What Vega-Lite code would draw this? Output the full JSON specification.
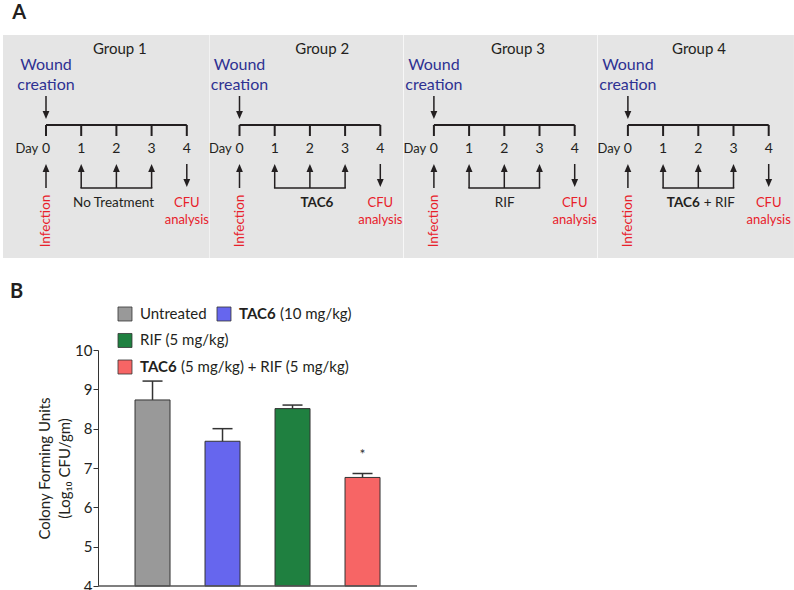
{
  "$schema": "https://vega.github.io/schema/vega-lite/v6.json",
  "padding": {"left": 3, "top": 2, "right": 0, "bottom": 0},
  "config": {"font": "Lato", "view": {"stroke": null}},
  "spacing": 24,
  "datasets": {
    "diagram": [
      {"group": "Group 1", "kind": "g", "normal": "No Treatment", "bold": ""},
      {"group": "Group 2", "kind": "g", "normal": "", "bold": "TAC6"},
      {"group": "Group 3", "kind": "g", "normal": "RIF", "bold": ""},
      {"group": "Group 4", "kind": "g", "normal": "+ RIF", "bold": "TAC6"},
      {"group": "Group 1", "kind": "d", "day": 0}, {"group": "Group 1", "kind": "d", "day": 1}, {"group": "Group 1", "kind": "d", "day": 2}, {"group": "Group 1", "kind": "d", "day": 3}, {"group": "Group 1", "kind": "d", "day": 4},
      {"group": "Group 2", "kind": "d", "day": 0}, {"group": "Group 2", "kind": "d", "day": 1}, {"group": "Group 2", "kind": "d", "day": 2}, {"group": "Group 2", "kind": "d", "day": 3}, {"group": "Group 2", "kind": "d", "day": 4},
      {"group": "Group 3", "kind": "d", "day": 0}, {"group": "Group 3", "kind": "d", "day": 1}, {"group": "Group 3", "kind": "d", "day": 2}, {"group": "Group 3", "kind": "d", "day": 3}, {"group": "Group 3", "kind": "d", "day": 4},
      {"group": "Group 4", "kind": "d", "day": 0}, {"group": "Group 4", "kind": "d", "day": 1}, {"group": "Group 4", "kind": "d", "day": 2}, {"group": "Group 4", "kind": "d", "day": 3}, {"group": "Group 4", "kind": "d", "day": 4}
    ],
    "bars": [
      {"treatment": "Untreated", "mean": 8.73, "upper": 9.21, "sig": ""},
      {"treatment": "TAC6 (10 mg/kg)", "mean": 7.68, "upper": 8.0, "sig": ""},
      {"treatment": "RIF (5 mg/kg)", "mean": 8.51, "upper": 8.6, "sig": ""},
      {"treatment": "TAC6 (5 mg/kg) + RIF (5 mg/kg)", "mean": 6.76, "upper": 6.86, "sig": "*"}
    ],
    "legend": [
      {"treatment": "Untreated", "row": 0, "col": 0, "bold": "", "rest": "Untreated"},
      {"treatment": "TAC6 (10 mg/kg)", "row": 0, "col": 1, "bold": "TAC6", "rest": "(10 mg/kg)"},
      {"treatment": "RIF (5 mg/kg)", "row": 1, "col": 0, "bold": "", "rest": "RIF (5 mg/kg)"},
      {"treatment": "TAC6 (5 mg/kg) + RIF (5 mg/kg)", "row": 2, "col": 0, "bold": "TAC6", "rest": "(5 mg/kg) + RIF (5 mg/kg)"}
    ]
  },
  "vconcat": [
    {
      "hconcat": [
        {
          "width": 206.5, "height": 223,
          "data": {"name": "diagram"},
          "transform": [{"filter": "datum.group == 'Group 1'"}],
          "layer": [
            {"transform": [{"filter": "datum.kind == 'g'"}], "mark": {"type": "rect", "fill": "#e5e5e5"}, "encoding": {}},
            {"transform": [{"filter": "datum.kind == 'g'"}], "mark": {"type": "rule", "stroke": "#231f20", "strokeWidth": 2},
             "encoding": {"x": {"datum": 0, "type": "quantitative", "scale": {"domain": [-1.2216, 4.6449], "nice": false, "zero": false}, "axis": null}, "x2": {"datum": 4},
                          "y": {"datum": 0, "type": "quantitative", "scale": {"domain": [-9, 13.3], "reverse": true, "nice": false, "zero": false}, "axis": null}}},
            {"transform": [{"filter": "datum.kind == 'g'"}], "mark": {"type": "text", "fontSize": 15, "color": "#231f20", "align": "center", "baseline": "middle"},
             "encoding": {"text": {"field": "group"}, "x": {"datum": 2.1, "type": "quantitative"}, "y": {"datum": -7.63, "type": "quantitative"}}},
            {"transform": [{"filter": "datum.kind == 'g'"}], "mark": {"type": "text", "fontSize": 16, "color": "#2e3192", "align": "center", "baseline": "middle", "text": ["Wound", "creation"], "lineHeight": 20},
             "encoding": {"x": {"datum": 0, "type": "quantitative"}, "y": {"datum": -6.0, "type": "quantitative"}}},
            {"transform": [{"filter": "datum.kind == 'g'"}], "mark": {"type": "rule", "stroke": "#231f20", "strokeWidth": 1.5},
             "encoding": {"x": {"datum": 0, "type": "quantitative"}, "y": {"datum": -2.9, "type": "quantitative"}, "y2": {"datum": -1.0}}},
            {"transform": [{"filter": "datum.kind == 'g'"}], "mark": {"type": "point", "shape": "M-0.85,-1L0.85,-1L0,1Z", "size": 64, "filled": true, "fill": "#231f20", "strokeWidth": 0, "opacity": 1},
             "encoding": {"x": {"datum": 0, "type": "quantitative"}, "y": {"datum": -1.0, "type": "quantitative"}}},
            {"transform": [{"filter": "datum.kind == 'd'"}], "mark": {"type": "rule", "stroke": "#231f20", "strokeWidth": 2},
             "encoding": {"x": {"field": "day", "type": "quantitative"}, "y": {"datum": 0, "type": "quantitative"}, "y2": {"datum": 1.1}}},
            {"transform": [{"filter": "datum.kind == 'd'"}], "mark": {"type": "text", "fontSize": 14, "color": "#231f20", "align": "center", "baseline": "middle"},
             "encoding": {"text": {"field": "day"}, "x": {"field": "day", "type": "quantitative"}, "y": {"datum": 2.4, "type": "quantitative"}}},
            {"transform": [{"filter": "datum.kind == 'g'"}], "mark": {"type": "text", "fontSize": 13, "color": "#231f20", "align": "right", "baseline": "middle", "text": "Day"},
             "encoding": {"x": {"datum": -0.22, "type": "quantitative"}, "y": {"datum": 2.4, "type": "quantitative"}}},
            {"transform": [{"filter": "datum.kind == 'd' && datum.day < 4"}], "mark": {"type": "rule", "stroke": "#231f20", "strokeWidth": 1.5},
             "encoding": {"x": {"field": "day", "type": "quantitative"}, "y": {"datum": 6.3, "type": "quantitative"}, "y2": {"datum": 4.3}}},
            {"transform": [{"filter": "datum.kind == 'd' && datum.day < 4"}], "mark": {"type": "point", "shape": "M-0.85,1L0.85,1L0,-1Z", "size": 64, "filled": true, "fill": "#231f20", "strokeWidth": 0, "opacity": 1},
             "encoding": {"x": {"field": "day", "type": "quantitative"}, "y": {"datum": 4.3, "type": "quantitative"}}},
            {"transform": [{"filter": "datum.kind == 'g'"}], "mark": {"type": "rule", "stroke": "#231f20", "strokeWidth": 1.5, "strokeCap": "square"},
             "encoding": {"x": {"datum": 1, "type": "quantitative"}, "x2": {"datum": 3}, "y": {"datum": 6.3, "type": "quantitative"}}},
            {"transform": [{"filter": "datum.kind == 'd' && datum.day == 4"}], "mark": {"type": "rule", "stroke": "#231f20", "strokeWidth": 1.5},
             "encoding": {"x": {"field": "day", "type": "quantitative"}, "y": {"datum": 3.9, "type": "quantitative"}, "y2": {"datum": 5.8}}},
            {"transform": [{"filter": "datum.kind == 'd' && datum.day == 4"}], "mark": {"type": "point", "shape": "M-0.85,-1L0.85,-1L0,1Z", "size": 64, "filled": true, "fill": "#231f20", "strokeWidth": 0, "opacity": 1},
             "encoding": {"x": {"field": "day", "type": "quantitative"}, "y": {"datum": 5.8, "type": "quantitative"}}},
            {"transform": [{"filter": "datum.kind == 'g'"}], "mark": {"type": "text", "fontSize": 13.5, "color": "#231f20", "align": "center", "baseline": "middle"},
             "encoding": {"text": {"field": "normal"}, "x": {"datum": 1.92, "type": "quantitative"}, "y": {"datum": 7.8, "type": "quantitative"}}},
            {"transform": [{"filter": "datum.kind == 'g'"}], "mark": {"type": "text", "fontSize": 13, "color": "#e8202a", "align": "center", "baseline": "middle", "text": ["CFU", "analysis"], "lineHeight": 17},
             "encoding": {"x": {"datum": 4, "type": "quantitative"}, "y": {"datum": 7.8, "type": "quantitative"}}},
            {"transform": [{"filter": "datum.kind == 'g'"}], "mark": {"type": "text", "fontSize": 13.5, "color": "#e8202a", "align": "center", "baseline": "middle", "angle": 270, "text": "Infection"},
             "encoding": {"x": {"datum": 0, "type": "quantitative"}, "y": {"datum": 9.6, "type": "quantitative"}}},
            {"transform": [{"filter": "datum.kind == 'g'"}], "mark": {"type": "text", "fontSize": 20, "fontWeight": "bold", "color": "#231f20", "align": "left", "baseline": "middle", "text": "A"},
             "encoding": {"x": {"datum": -0.96, "type": "quantitative"}, "y": {"datum": -11.25, "type": "quantitative"}}}
          ]
        },
        {
          "width": 193.3, "height": 223,
          "data": {"name": "diagram"},
          "transform": [{"filter": "datum.group == 'Group 2'"}],
          "layer": [
            {"transform": [{"filter": "datum.kind == 'g'"}], "mark": {"type": "rect", "fill": "#e5e5e5"}, "encoding": {}},
            {"transform": [{"filter": "datum.kind == 'g'"}], "mark": {"type": "rule", "stroke": "#231f20", "strokeWidth": 2},
             "encoding": {"x": {"datum": 0, "type": "quantitative", "scale": {"domain": [-0.8381, 4.6534], "nice": false, "zero": false}, "axis": null}, "x2": {"datum": 4},
                          "y": {"datum": 0, "type": "quantitative", "scale": {"domain": [-9, 13.3], "reverse": true, "nice": false, "zero": false}, "axis": null}}},
            {"transform": [{"filter": "datum.kind == 'g'"}], "mark": {"type": "text", "fontSize": 15, "color": "#231f20", "align": "center", "baseline": "middle"},
             "encoding": {"text": {"field": "group"}, "x": {"datum": 2.35, "type": "quantitative"}, "y": {"datum": -7.63, "type": "quantitative"}}},
            {"transform": [{"filter": "datum.kind == 'g'"}], "mark": {"type": "text", "fontSize": 16, "color": "#2e3192", "align": "center", "baseline": "middle", "text": ["Wound", "creation"], "lineHeight": 20},
             "encoding": {"x": {"datum": 0, "type": "quantitative"}, "y": {"datum": -6.0, "type": "quantitative"}}},
            {"transform": [{"filter": "datum.kind == 'g'"}], "mark": {"type": "rule", "stroke": "#231f20", "strokeWidth": 1.5},
             "encoding": {"x": {"datum": 0, "type": "quantitative"}, "y": {"datum": -2.9, "type": "quantitative"}, "y2": {"datum": -1.0}}},
            {"transform": [{"filter": "datum.kind == 'g'"}], "mark": {"type": "point", "shape": "M-0.85,-1L0.85,-1L0,1Z", "size": 64, "filled": true, "fill": "#231f20", "strokeWidth": 0, "opacity": 1},
             "encoding": {"x": {"datum": 0, "type": "quantitative"}, "y": {"datum": -1.0, "type": "quantitative"}}},
            {"transform": [{"filter": "datum.kind == 'd'"}], "mark": {"type": "rule", "stroke": "#231f20", "strokeWidth": 2},
             "encoding": {"x": {"field": "day", "type": "quantitative"}, "y": {"datum": 0, "type": "quantitative"}, "y2": {"datum": 1.1}}},
            {"transform": [{"filter": "datum.kind == 'd'"}], "mark": {"type": "text", "fontSize": 14, "color": "#231f20", "align": "center", "baseline": "middle"},
             "encoding": {"text": {"field": "day"}, "x": {"field": "day", "type": "quantitative"}, "y": {"datum": 2.4, "type": "quantitative"}}},
            {"transform": [{"filter": "datum.kind == 'g'"}], "mark": {"type": "text", "fontSize": 13, "color": "#231f20", "align": "right", "baseline": "middle", "text": "Day"},
             "encoding": {"x": {"datum": -0.22, "type": "quantitative"}, "y": {"datum": 2.4, "type": "quantitative"}}},
            {"transform": [{"filter": "datum.kind == 'd' && datum.day < 4"}], "mark": {"type": "rule", "stroke": "#231f20", "strokeWidth": 1.5},
             "encoding": {"x": {"field": "day", "type": "quantitative"}, "y": {"datum": 6.3, "type": "quantitative"}, "y2": {"datum": 4.3}}},
            {"transform": [{"filter": "datum.kind == 'd' && datum.day < 4"}], "mark": {"type": "point", "shape": "M-0.85,1L0.85,1L0,-1Z", "size": 64, "filled": true, "fill": "#231f20", "strokeWidth": 0, "opacity": 1},
             "encoding": {"x": {"field": "day", "type": "quantitative"}, "y": {"datum": 4.3, "type": "quantitative"}}},
            {"transform": [{"filter": "datum.kind == 'g'"}], "mark": {"type": "rule", "stroke": "#231f20", "strokeWidth": 1.5, "strokeCap": "square"},
             "encoding": {"x": {"datum": 1, "type": "quantitative"}, "x2": {"datum": 3}, "y": {"datum": 6.3, "type": "quantitative"}}},
            {"transform": [{"filter": "datum.kind == 'd' && datum.day == 4"}], "mark": {"type": "rule", "stroke": "#231f20", "strokeWidth": 1.5},
             "encoding": {"x": {"field": "day", "type": "quantitative"}, "y": {"datum": 3.9, "type": "quantitative"}, "y2": {"datum": 5.8}}},
            {"transform": [{"filter": "datum.kind == 'd' && datum.day == 4"}], "mark": {"type": "point", "shape": "M-0.85,-1L0.85,-1L0,1Z", "size": 64, "filled": true, "fill": "#231f20", "strokeWidth": 0, "opacity": 1},
             "encoding": {"x": {"field": "day", "type": "quantitative"}, "y": {"datum": 5.8, "type": "quantitative"}}},
            {"transform": [{"filter": "datum.kind == 'g'"}], "mark": {"type": "text", "fontSize": 13.5, "fontWeight": "bold", "color": "#231f20", "align": "center", "baseline": "middle"},
             "encoding": {"text": {"field": "bold"}, "x": {"datum": 2.2, "type": "quantitative"}, "y": {"datum": 7.8, "type": "quantitative"}}},
            {"transform": [{"filter": "datum.kind == 'g'"}], "mark": {"type": "text", "fontSize": 13, "color": "#e8202a", "align": "center", "baseline": "middle", "text": ["CFU", "analysis"], "lineHeight": 17},
             "encoding": {"x": {"datum": 4, "type": "quantitative"}, "y": {"datum": 7.8, "type": "quantitative"}}},
            {"transform": [{"filter": "datum.kind == 'g'"}], "mark": {"type": "text", "fontSize": 13.5, "color": "#e8202a", "align": "center", "baseline": "middle", "angle": 270, "text": "Infection"},
             "encoding": {"x": {"datum": 0, "type": "quantitative"}, "y": {"datum": 9.6, "type": "quantitative"}}}
          ]
        },
        {
          "width": 193.3, "height": 223,
          "data": {"name": "diagram"},
          "transform": [{"filter": "datum.group == 'Group 3'"}],
          "layer": [
            {"transform": [{"filter": "datum.kind == 'g'"}], "mark": {"type": "rect", "fill": "#e5e5e5"}, "encoding": {}},
            {"transform": [{"filter": "datum.kind == 'g'"}], "mark": {"type": "rule", "stroke": "#231f20", "strokeWidth": 2},
             "encoding": {"x": {"datum": 0, "type": "quantitative", "scale": {"domain": [-0.8494, 4.642], "nice": false, "zero": false}, "axis": null}, "x2": {"datum": 4},
                          "y": {"datum": 0, "type": "quantitative", "scale": {"domain": [-9, 13.3], "reverse": true, "nice": false, "zero": false}, "axis": null}}},
            {"transform": [{"filter": "datum.kind == 'g'"}], "mark": {"type": "text", "fontSize": 15, "color": "#231f20", "align": "center", "baseline": "middle"},
             "encoding": {"text": {"field": "group"}, "x": {"datum": 2.39, "type": "quantitative"}, "y": {"datum": -7.63, "type": "quantitative"}}},
            {"transform": [{"filter": "datum.kind == 'g'"}], "mark": {"type": "text", "fontSize": 16, "color": "#2e3192", "align": "center", "baseline": "middle", "text": ["Wound", "creation"], "lineHeight": 20},
             "encoding": {"x": {"datum": 0, "type": "quantitative"}, "y": {"datum": -6.0, "type": "quantitative"}}},
            {"transform": [{"filter": "datum.kind == 'g'"}], "mark": {"type": "rule", "stroke": "#231f20", "strokeWidth": 1.5},
             "encoding": {"x": {"datum": 0, "type": "quantitative"}, "y": {"datum": -2.9, "type": "quantitative"}, "y2": {"datum": -1.0}}},
            {"transform": [{"filter": "datum.kind == 'g'"}], "mark": {"type": "point", "shape": "M-0.85,-1L0.85,-1L0,1Z", "size": 64, "filled": true, "fill": "#231f20", "strokeWidth": 0, "opacity": 1},
             "encoding": {"x": {"datum": 0, "type": "quantitative"}, "y": {"datum": -1.0, "type": "quantitative"}}},
            {"transform": [{"filter": "datum.kind == 'd'"}], "mark": {"type": "rule", "stroke": "#231f20", "strokeWidth": 2},
             "encoding": {"x": {"field": "day", "type": "quantitative"}, "y": {"datum": 0, "type": "quantitative"}, "y2": {"datum": 1.1}}},
            {"transform": [{"filter": "datum.kind == 'd'"}], "mark": {"type": "text", "fontSize": 14, "color": "#231f20", "align": "center", "baseline": "middle"},
             "encoding": {"text": {"field": "day"}, "x": {"field": "day", "type": "quantitative"}, "y": {"datum": 2.4, "type": "quantitative"}}},
            {"transform": [{"filter": "datum.kind == 'g'"}], "mark": {"type": "text", "fontSize": 13, "color": "#231f20", "align": "right", "baseline": "middle", "text": "Day"},
             "encoding": {"x": {"datum": -0.22, "type": "quantitative"}, "y": {"datum": 2.4, "type": "quantitative"}}},
            {"transform": [{"filter": "datum.kind == 'd' && datum.day < 4"}], "mark": {"type": "rule", "stroke": "#231f20", "strokeWidth": 1.5},
             "encoding": {"x": {"field": "day", "type": "quantitative"}, "y": {"datum": 6.3, "type": "quantitative"}, "y2": {"datum": 4.3}}},
            {"transform": [{"filter": "datum.kind == 'd' && datum.day < 4"}], "mark": {"type": "point", "shape": "M-0.85,1L0.85,1L0,-1Z", "size": 64, "filled": true, "fill": "#231f20", "strokeWidth": 0, "opacity": 1},
             "encoding": {"x": {"field": "day", "type": "quantitative"}, "y": {"datum": 4.3, "type": "quantitative"}}},
            {"transform": [{"filter": "datum.kind == 'g'"}], "mark": {"type": "rule", "stroke": "#231f20", "strokeWidth": 1.5, "strokeCap": "square"},
             "encoding": {"x": {"datum": 1, "type": "quantitative"}, "x2": {"datum": 3}, "y": {"datum": 6.3, "type": "quantitative"}}},
            {"transform": [{"filter": "datum.kind == 'd' && datum.day == 4"}], "mark": {"type": "rule", "stroke": "#231f20", "strokeWidth": 1.5},
             "encoding": {"x": {"field": "day", "type": "quantitative"}, "y": {"datum": 3.9, "type": "quantitative"}, "y2": {"datum": 5.8}}},
            {"transform": [{"filter": "datum.kind == 'd' && datum.day == 4"}], "mark": {"type": "point", "shape": "M-0.85,-1L0.85,-1L0,1Z", "size": 64, "filled": true, "fill": "#231f20", "strokeWidth": 0, "opacity": 1},
             "encoding": {"x": {"field": "day", "type": "quantitative"}, "y": {"datum": 5.8, "type": "quantitative"}}},
            {"transform": [{"filter": "datum.kind == 'g'"}], "mark": {"type": "text", "fontSize": 13.5, "color": "#231f20", "align": "center", "baseline": "middle"},
             "encoding": {"text": {"field": "normal"}, "x": {"datum": 2.01, "type": "quantitative"}, "y": {"datum": 7.8, "type": "quantitative"}}},
            {"transform": [{"filter": "datum.kind == 'g'"}], "mark": {"type": "text", "fontSize": 13, "color": "#e8202a", "align": "center", "baseline": "middle", "text": ["CFU", "analysis"], "lineHeight": 17},
             "encoding": {"x": {"datum": 4, "type": "quantitative"}, "y": {"datum": 7.8, "type": "quantitative"}}},
            {"transform": [{"filter": "datum.kind == 'g'"}], "mark": {"type": "text", "fontSize": 13.5, "color": "#e8202a", "align": "center", "baseline": "middle", "angle": 270, "text": "Infection"},
             "encoding": {"x": {"datum": 0, "type": "quantitative"}, "y": {"datum": 9.6, "type": "quantitative"}}}
          ]
        },
        {
          "width": 195.9, "height": 223,
          "data": {"name": "diagram"},
          "transform": [{"filter": "datum.group == 'Group 4'"}],
          "layer": [
            {"transform": [{"filter": "datum.kind == 'g'"}], "mark": {"type": "rect", "fill": "#e5e5e5"}, "encoding": {}},
            {"transform": [{"filter": "datum.kind == 'g'"}], "mark": {"type": "rule", "stroke": "#231f20", "strokeWidth": 2},
             "encoding": {"x": {"datum": 0, "type": "quantitative", "scale": {"domain": [-0.8494, 4.7159], "nice": false, "zero": false}, "axis": null}, "x2": {"datum": 4},
                          "y": {"datum": 0, "type": "quantitative", "scale": {"domain": [-9, 13.3], "reverse": true, "nice": false, "zero": false}, "axis": null}}},
            {"transform": [{"filter": "datum.kind == 'g'"}], "mark": {"type": "text", "fontSize": 15, "color": "#231f20", "align": "center", "baseline": "middle"},
             "encoding": {"text": {"field": "group"}, "x": {"datum": 2.02, "type": "quantitative"}, "y": {"datum": -7.63, "type": "quantitative"}}},
            {"transform": [{"filter": "datum.kind == 'g'"}], "mark": {"type": "text", "fontSize": 16, "color": "#2e3192", "align": "center", "baseline": "middle", "text": ["Wound", "creation"], "lineHeight": 20},
             "encoding": {"x": {"datum": 0, "type": "quantitative"}, "y": {"datum": -6.0, "type": "quantitative"}}},
            {"transform": [{"filter": "datum.kind == 'g'"}], "mark": {"type": "rule", "stroke": "#231f20", "strokeWidth": 1.5},
             "encoding": {"x": {"datum": 0, "type": "quantitative"}, "y": {"datum": -2.9, "type": "quantitative"}, "y2": {"datum": -1.0}}},
            {"transform": [{"filter": "datum.kind == 'g'"}], "mark": {"type": "point", "shape": "M-0.85,-1L0.85,-1L0,1Z", "size": 64, "filled": true, "fill": "#231f20", "strokeWidth": 0, "opacity": 1},
             "encoding": {"x": {"datum": 0, "type": "quantitative"}, "y": {"datum": -1.0, "type": "quantitative"}}},
            {"transform": [{"filter": "datum.kind == 'd'"}], "mark": {"type": "rule", "stroke": "#231f20", "strokeWidth": 2},
             "encoding": {"x": {"field": "day", "type": "quantitative"}, "y": {"datum": 0, "type": "quantitative"}, "y2": {"datum": 1.1}}},
            {"transform": [{"filter": "datum.kind == 'd'"}], "mark": {"type": "text", "fontSize": 14, "color": "#231f20", "align": "center", "baseline": "middle"},
             "encoding": {"text": {"field": "day"}, "x": {"field": "day", "type": "quantitative"}, "y": {"datum": 2.4, "type": "quantitative"}}},
            {"transform": [{"filter": "datum.kind == 'g'"}], "mark": {"type": "text", "fontSize": 13, "color": "#231f20", "align": "right", "baseline": "middle", "text": "Day"},
             "encoding": {"x": {"datum": -0.22, "type": "quantitative"}, "y": {"datum": 2.4, "type": "quantitative"}}},
            {"transform": [{"filter": "datum.kind == 'd' && datum.day < 4"}], "mark": {"type": "rule", "stroke": "#231f20", "strokeWidth": 1.5},
             "encoding": {"x": {"field": "day", "type": "quantitative"}, "y": {"datum": 6.3, "type": "quantitative"}, "y2": {"datum": 4.3}}},
            {"transform": [{"filter": "datum.kind == 'd' && datum.day < 4"}], "mark": {"type": "point", "shape": "M-0.85,1L0.85,1L0,-1Z", "size": 64, "filled": true, "fill": "#231f20", "strokeWidth": 0, "opacity": 1},
             "encoding": {"x": {"field": "day", "type": "quantitative"}, "y": {"datum": 4.3, "type": "quantitative"}}},
            {"transform": [{"filter": "datum.kind == 'g'"}], "mark": {"type": "rule", "stroke": "#231f20", "strokeWidth": 1.5, "strokeCap": "square"},
             "encoding": {"x": {"datum": 1, "type": "quantitative"}, "x2": {"datum": 3}, "y": {"datum": 6.3, "type": "quantitative"}}},
            {"transform": [{"filter": "datum.kind == 'd' && datum.day == 4"}], "mark": {"type": "rule", "stroke": "#231f20", "strokeWidth": 1.5},
             "encoding": {"x": {"field": "day", "type": "quantitative"}, "y": {"datum": 3.9, "type": "quantitative"}, "y2": {"datum": 5.8}}},
            {"transform": [{"filter": "datum.kind == 'd' && datum.day == 4"}], "mark": {"type": "point", "shape": "M-0.85,-1L0.85,-1L0,1Z", "size": 64, "filled": true, "fill": "#231f20", "strokeWidth": 0, "opacity": 1},
             "encoding": {"x": {"field": "day", "type": "quantitative"}, "y": {"datum": 5.8, "type": "quantitative"}}},
            {"transform": [{"filter": "datum.kind == 'g'"}], "mark": {"type": "text", "fontSize": 13.5, "fontWeight": "bold", "color": "#231f20", "align": "right", "baseline": "middle", "dx": -2},
             "encoding": {"text": {"field": "bold"}, "x": {"datum": 2.1, "type": "quantitative"}, "y": {"datum": 7.8, "type": "quantitative"}}},
            {"transform": [{"filter": "datum.kind == 'g'"}], "mark": {"type": "text", "fontSize": 13.5, "color": "#231f20", "align": "left", "baseline": "middle", "dx": 2},
             "encoding": {"text": {"field": "normal"}, "x": {"datum": 2.1, "type": "quantitative"}, "y": {"datum": 7.8, "type": "quantitative"}}},
            {"transform": [{"filter": "datum.kind == 'g'"}], "mark": {"type": "text", "fontSize": 13, "color": "#e8202a", "align": "center", "baseline": "middle", "text": ["CFU", "analysis"], "lineHeight": 17},
             "encoding": {"x": {"datum": 4, "type": "quantitative"}, "y": {"datum": 7.8, "type": "quantitative"}}},
            {"transform": [{"filter": "datum.kind == 'g'"}], "mark": {"type": "text", "fontSize": 13.5, "color": "#e8202a", "align": "center", "baseline": "middle", "angle": 270, "text": "Infection"},
             "encoding": {"x": {"datum": 0, "type": "quantitative"}, "y": {"datum": 9.6, "type": "quantitative"}}}
          ]
        }
      ],
      "spacing": 0,
      "bounds": "flush"
    },
    {
      "width": 385,
      "height": 236,
      "layer": [
        {
          "data": {"name": "bars"},
          "layer": [
            {"mark": {"type": "bar", "stroke": "#333333", "strokeWidth": 1},
             "encoding": {
               "x": {"field": "treatment", "type": "nominal", "sort": null, "scale": {"paddingInner": 0.5, "paddingOuter": 1, "align": 0.943}, "axis": null},
               "y": {"field": "mean", "type": "quantitative", "scale": {"domain": [4, 10], "nice": false, "zero": false},
                     "axis": {"offset": -95, "values": [4, 5, 6, 7, 8, 9, 10], "tickCount": 7, "labelOverlap": false, "grid": false, "tickSize": 5, "tickColor": "#333333", "domainColor": "#333333", "labelFontSize": 15, "labelPadding": 1, "labelColor": "#231f20", "title": ["Colony Forming Units", "(Log₁₀ CFU/gm)"], "titleFontSize": 15, "titleFontWeight": "normal", "titleLineHeight": 20, "titlePadding": 2, "titleColor": "#231f20"}},
               "y2": {"datum": 4},
               "color": {"field": "treatment", "type": "nominal", "scale": {"domain": ["Untreated", "TAC6 (10 mg/kg)", "RIF (5 mg/kg)", "TAC6 (5 mg/kg) + RIF (5 mg/kg)"], "range": ["#999999", "#6666ee", "#1f8040", "#f76565"]}, "legend": null}
             }},
            {"mark": {"type": "rule", "stroke": "#333333", "strokeWidth": 1.5},
             "encoding": {"x": {"field": "treatment", "type": "nominal", "sort": null}, "y": {"field": "mean", "type": "quantitative"}, "y2": {"field": "upper"}}},
            {"mark": {"type": "tick", "color": "#333333", "size": 20, "thickness": 1.5, "opacity": 1},
             "encoding": {"x": {"field": "treatment", "type": "nominal", "sort": null}, "y": {"field": "upper", "type": "quantitative"}}},
            {"mark": {"type": "text", "fontSize": 14, "color": "#333333", "dy": -19, "baseline": "middle"},
             "encoding": {"x": {"field": "treatment", "type": "nominal", "sort": null}, "y": {"field": "upper", "type": "quantitative"}, "text": {"field": "sig"}}}
          ]
        },
        {
          "data": {"name": "legend"},
          "layer": [
            {"mark": {"type": "square", "size": 196, "filled": true, "stroke": "#333333", "strokeWidth": 0.8, "opacity": 1},
             "encoding": {
               "x": {"field": "col", "type": "quantitative", "scale": {"domain": [-1.2323, 2.6566], "nice": false, "zero": false}, "axis": null},
               "y": {"field": "row", "type": "quantitative", "scale": {"domain": [1.3585, 10.264], "reverse": true, "nice": false, "zero": false}, "axis": null},
               "color": {"field": "treatment", "type": "nominal", "legend": null}
             }},
            {"transform": [{"filter": "datum.bold != ''"}],
             "mark": {"type": "text", "fontSize": 15, "fontWeight": "bold", "color": "#231f20", "align": "left", "baseline": "middle", "dx": 15},
             "encoding": {"x": {"field": "col", "type": "quantitative"}, "y": {"field": "row", "type": "quantitative"}, "text": {"field": "bold"}}},
            {"transform": [{"filter": "datum.bold != ''"}],
             "mark": {"type": "text", "fontSize": 15, "color": "#231f20", "align": "left", "baseline": "middle", "dx": 56},
             "encoding": {"x": {"field": "col", "type": "quantitative"}, "y": {"field": "row", "type": "quantitative"}, "text": {"field": "rest"}}},
            {"transform": [{"filter": "datum.bold == ''"}],
             "mark": {"type": "text", "fontSize": 15, "color": "#231f20", "align": "left", "baseline": "middle", "dx": 15},
             "encoding": {"x": {"field": "col", "type": "quantitative"}, "y": {"field": "row", "type": "quantitative"}, "text": {"field": "rest"}}},
            {"data": {"values": [{"label": "B"}]},
             "mark": {"type": "text", "fontSize": 20, "fontWeight": "bold", "color": "#231f20", "align": "left", "baseline": "middle"},
             "encoding": {"x": {"datum": -1.1616, "type": "quantitative"}, "y": {"datum": -0.83, "type": "quantitative"}, "text": {"field": "label"}}},
            {"data": {"values": [{"label": "baseline"}]},
             "mark": {"type": "rule", "stroke": "#555555", "strokeWidth": 1.5},
             "encoding": {"x": {"datum": -0.2727, "type": "quantitative"}, "x2": {"datum": 2.9495}, "y": {"datum": 10.264, "type": "quantitative"}}}
          ]
        }
      ],
      "resolve": {"scale": {"x": "independent", "y": "independent"}}
    }
  ]
}
